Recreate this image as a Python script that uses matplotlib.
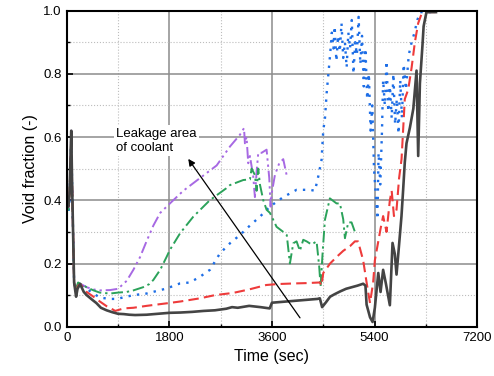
import matplotlib
matplotlib.use("Agg")
import matplotlib.pyplot as plt
from matplotlib.ticker import MultipleLocator
import numpy as np

plt.rcParams['font.family'] = ['Liberation Sans', 'DejaVu Sans']

# (time [s], void fraction)
black = [(0, 0.39), (30, 0.38), (50, 0.42), (80, 0.62), (95, 0.45), (130, 0.14), (165, 0.095),
         (190, 0.12), (235, 0.135), (300, 0.11), (350, 0.1), (450, 0.085), (520, 0.075),
         (600, 0.06), (700, 0.052), (800, 0.046), (900, 0.041), (1000, 0.04), (1100, 0.038),
         (1200, 0.037), (1400, 0.038), (1600, 0.041), (1800, 0.044), (2000, 0.045),
         (2200, 0.047), (2400, 0.05), (2600, 0.052), (2800, 0.057), (2900, 0.062),
         (3000, 0.06), (3200, 0.066), (3400, 0.062), (3560, 0.058), (3600, 0.076),
         (3800, 0.079), (4000, 0.082), (4200, 0.085), (4400, 0.088), (4440, 0.09),
         (4480, 0.062), (4550, 0.078), (4620, 0.095), (4700, 0.103), (4800, 0.112),
         (4900, 0.12), (5000, 0.125), (5100, 0.13), (5200, 0.136), (5240, 0.13),
         (5260, 0.07), (5320, 0.03), (5365, 0.015), (5405, 0.06), (5465, 0.17),
         (5505, 0.11), (5550, 0.18), (5600, 0.135), (5668, 0.068), (5715, 0.265),
         (5755, 0.23), (5785, 0.165), (5830, 0.26), (5872, 0.35), (5900, 0.43),
         (5930, 0.52), (5960, 0.58), (6020, 0.63), (6080, 0.69), (6136, 0.81),
         (6165, 0.54), (6195, 0.77), (6240, 0.89), (6260, 0.95), (6310, 0.995), (6500, 0.995)]

red = [(0, 0.4), (30, 0.38), (50, 0.42), (80, 0.6), (95, 0.45), (130, 0.14), (165, 0.11),
       (200, 0.13), (240, 0.135), (350, 0.11), (470, 0.095), (580, 0.08), (700, 0.065),
       (760, 0.06), (850, 0.05), (1000, 0.058), (1170, 0.06), (1400, 0.066), (1750, 0.074),
       (2000, 0.08), (2340, 0.09), (2600, 0.1), (2920, 0.107), (3200, 0.118), (3500, 0.132),
       (3700, 0.135), (4000, 0.137), (4200, 0.138), (4440, 0.14), (4470, 0.13),
       (4500, 0.17), (4620, 0.2), (4730, 0.22), (4850, 0.24), (4970, 0.255), (5055, 0.27),
       (5110, 0.27), (5200, 0.21), (5260, 0.14), (5320, 0.075), (5375, 0.14),
       (5405, 0.21), (5465, 0.27), (5505, 0.31), (5550, 0.35), (5610, 0.3), (5668, 0.4),
       (5700, 0.43), (5740, 0.35), (5785, 0.37), (5830, 0.47), (5873, 0.53), (5930, 0.72),
       (5990, 0.75), (6050, 0.82), (6107, 0.9), (6165, 0.96), (6225, 0.99), (6280, 0.995),
       (6500, 0.995)]

green = [(0, 0.4), (30, 0.37), (50, 0.42), (80, 0.61), (95, 0.45), (130, 0.14), (165, 0.12),
         (200, 0.14), (250, 0.135), (350, 0.125), (470, 0.115), (580, 0.108), (760, 0.105),
         (900, 0.108), (1050, 0.11), (1170, 0.115), (1340, 0.125), (1450, 0.135),
         (1520, 0.148), (1640, 0.18), (1750, 0.22), (1810, 0.243), (1990, 0.296),
         (2220, 0.348), (2510, 0.4), (2800, 0.438), (2864, 0.448), (3097, 0.464),
         (3214, 0.466), (3243, 0.5), (3301, 0.48), (3331, 0.43), (3360, 0.5),
         (3389, 0.45), (3448, 0.4), (3506, 0.37), (3565, 0.36), (3681, 0.316),
         (3798, 0.3), (3860, 0.29), (3915, 0.2), (3974, 0.264), (4032, 0.27), (4090, 0.24),
         (4149, 0.275), (4208, 0.27), (4295, 0.26), (4383, 0.27), (4429, 0.19),
         (4453, 0.127), (4488, 0.232), (4529, 0.338), (4616, 0.406), (4733, 0.39),
         (4792, 0.39), (4850, 0.34), (4880, 0.28), (4938, 0.33), (4996, 0.33),
         (5055, 0.3)]

blue = [(0, 0.38), (30, 0.36), (50, 0.4), (80, 0.6), (95, 0.45), (130, 0.14), (165, 0.115),
        (200, 0.135), (250, 0.13), (350, 0.12), (470, 0.105), (584, 0.092), (760, 0.088),
        (877, 0.088), (1050, 0.095), (1170, 0.1), (1400, 0.105), (1600, 0.114),
        (1753, 0.121), (1987, 0.137), (2160, 0.14), (2337, 0.158), (2512, 0.18),
        (2688, 0.232), (2864, 0.264), (3038, 0.29), (3214, 0.32), (3400, 0.35),
        (3565, 0.38), (3798, 0.41), (4032, 0.433), (4266, 0.433), (4354, 0.43),
        (4412, 0.475), (4470, 0.528), (4500, 0.62), (4530, 0.66), (4560, 0.74),
        (4590, 0.8), (4620, 0.86), (4650, 0.93), (4680, 0.88), (4700, 0.95),
        (4730, 0.84), (4760, 0.92), (4790, 0.87), (4820, 0.96), (4850, 0.85),
        (4880, 0.9), (4910, 0.82), (4940, 0.93), (4970, 0.88), (5000, 0.97),
        (5030, 0.8), (5060, 0.9), (5090, 0.86), (5120, 0.98), (5150, 0.83),
        (5180, 0.92), (5210, 0.76), (5240, 0.88), (5270, 0.72), (5300, 0.8),
        (5330, 0.62), (5360, 0.7), (5390, 0.5), (5420, 0.42), (5450, 0.34),
        (5470, 0.55), (5500, 0.45), (5530, 0.62), (5550, 0.78), (5580, 0.7),
        (5610, 0.84), (5640, 0.68), (5670, 0.76), (5700, 0.66), (5730, 0.8),
        (5760, 0.64), (5790, 0.72), (5820, 0.61), (5850, 0.78), (5880, 0.66),
        (5910, 0.83), (5950, 0.75), (6000, 0.86), (6050, 0.9), (6100, 0.93),
        (6150, 0.97), (6200, 0.995), (6500, 0.995)]

purple = [(0, 0.39), (30, 0.37), (50, 0.41), (80, 0.62), (95, 0.45), (130, 0.14),
          (165, 0.12), (200, 0.14), (250, 0.135), (350, 0.125), (470, 0.118),
          (584, 0.115), (760, 0.116), (900, 0.12), (1052, 0.145), (1169, 0.18),
          (1286, 0.22), (1400, 0.27), (1520, 0.32), (1640, 0.36), (1811, 0.39),
          (2045, 0.43), (2337, 0.47), (2630, 0.51), (2864, 0.57), (3038, 0.607),
          (3110, 0.628), (3126, 0.58), (3155, 0.6), (3184, 0.517), (3214, 0.54),
          (3272, 0.475), (3301, 0.41), (3331, 0.49), (3360, 0.55), (3418, 0.55),
          (3506, 0.56), (3553, 0.47), (3576, 0.38), (3594, 0.42), (3652, 0.48),
          (3728, 0.517), (3798, 0.53), (3857, 0.48)]

series = [
    (black, '#444444', (0, ()), 1.9),
    (red, '#ee3b3b', (0, (5, 2.5)), 1.5),
    (green, '#2ba25a', (0, (6, 2, 1.2, 2)), 1.4),
    (blue, '#1e6ee6', (0, (1, 2.6)), 1.7),
    (purple, '#a769e3', (0, (6, 2, 1.2, 2, 1.2, 2)), 1.4),
]

fig = plt.figure(figsize=(4.94, 3.76), dpi=100)
ax = fig.add_axes([0.135, 0.131, 0.831, 0.841])

for pts, col, ls, lw in series[::-1]:
    d = np.array(pts)
    ax.plot(d[:, 0], d[:, 1], color=col, linestyle=ls, linewidth=lw)

ax.set_xlim(0, 7200)
ax.set_ylim(0, 1.0)
ax.xaxis.set_major_locator(MultipleLocator(1800))
ax.xaxis.set_minor_locator(MultipleLocator(900))
ax.yaxis.set_major_locator(MultipleLocator(0.2))
ax.yaxis.set_minor_locator(MultipleLocator(0.1))
ax.yaxis.set_major_formatter(matplotlib.ticker.FormatStrFormatter('%.1f'))

ax.grid(which='major', color='#8c8c8c', linewidth=1.1, linestyle='-', zorder=0)
ax.grid(which='minor', color='#bdbdbd', linewidth=0.8, linestyle=':', zorder=0)
ax.set_axisbelow(True)

ax.tick_params(which='major', direction='in', length=4, width=1.2, labelsize=9.5)
ax.tick_params(which='minor', direction='in', length=2.5, width=1)
for s in ax.spines.values():
    s.set_linewidth(1.5)

ax.set_xlabel('Time (sec)', fontsize=11.5)
ax.set_ylabel('Void fraction (-)', fontsize=11.5)

ax.annotate('', xy=(2104, 0.538), xytext=(4120, 0.021),
            arrowprops=dict(arrowstyle='-|>', color='black', lw=0.9,
                            mutation_scale=10))
ax.text(864, 0.63, 'Leakage area\nof coolant', fontsize=9.5, va='top', ha='left',
        linespacing=1.3,
        bbox=dict(facecolor='white', edgecolor='none', pad=1.5))

fig.savefig('out.png', dpi=100)
